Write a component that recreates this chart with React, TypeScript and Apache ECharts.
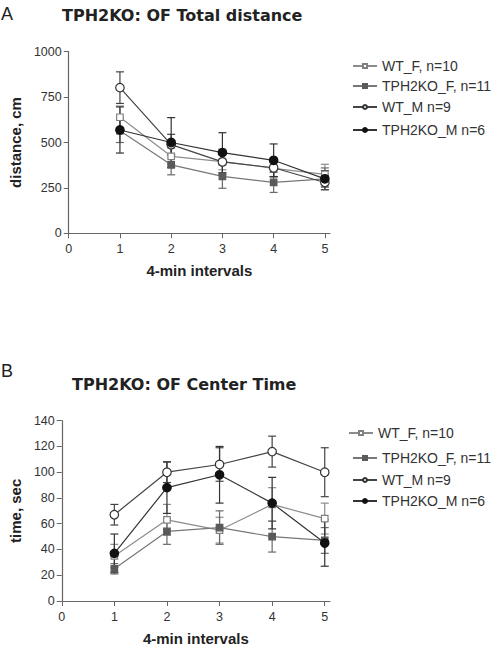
import React, { useEffect, useRef } from "react";
import * as echarts from "echarts";

const intervals = [1, 2, 3, 4, 5];
const xTicks = [0, 1, 2, 3, 4, 5];
const seriesNames = ["WT_F, n=10", "TPH2KO_F, n=11", "WT_M n=9", "TPH2KO_M n=6"];

// Panel A: total distance (cm), mean and SEM
const distWTF = [639, 424, 395, 358, 325];
const distWTFErr = [62, 45, 45, 45, 55];
const distKOF = [565, 377, 313, 280, 300];
const distKOFErr = [65, 55, 65, 55, 60];
const distWTM = [802, 488, 393, 361, 280];
const distWTMErr = [87, 57, 70, 50, 40];
const distKOM = [569, 500, 444, 402, 300];
const distKOMErr = [127, 137, 110, 90, 45];
const distTicks = [0, 250, 500, 750, 1000];

// Panel B: center time (sec), mean and SEM
const timeWTF = [35, 63, 55, 75, 64];
const timeWTFErr = [9, 12, 10, 13, 12];
const timeKOF = [25, 54, 57, 50, 47];
const timeKOFErr = [4, 10, 13, 12, 10];
const timeWTM = [67, 100, 106, 116, 100];
const timeWTMErr = [8, 8, 13, 12, 19];
const timeKOM = [37, 88, 98, 76, 45];
const timeKOMErr = [15, 20, 22, 20, 18];
const timeTicks = [0, 20, 40, 60, 80, 100, 120, 140];

const styles = [
  { line: "#8c8c8c", symbol: "rect", size: 6.5, fill: "#ffffff", border: "#808080", err: "#8c8c8c" },
  { line: "#777777", symbol: "rect", size: 6.5, fill: "#5a5a5a", border: "#5a5a5a", err: "#6a6a6a" },
  { line: "#444444", symbol: "circle", size: 8.5, fill: "#ffffff", border: "#333333", err: "#444444" },
  { line: "#333333", symbol: "circle", size: 8.5, fill: "#111111", border: "#111111", err: "#333333" },
];

const FONT = "'Liberation Sans', Arial, sans-serif";

export default function App() {
  const ref = useRef<HTMLDivElement>(null);
  useEffect(() => {
    document.body.style.margin = "0";
    const chart = echarts.init(ref.current!, undefined, { renderer: "svg" });

    const topMeans = [distWTF, distKOF, distWTM, distKOM];
    const topErrs = [distWTFErr, distKOFErr, distWTMErr, distKOMErr];
    const botMeans = [timeWTF, timeKOF, timeWTM, timeKOM];
    const botErrs = [timeWTFErr, timeKOFErr, timeWTMErr, timeKOMErr];

    const series: any[] = [];
    const mk = (means: number[][], errs: number[][], idx: number) => {
      means.forEach((m, i) => {
        const s = styles[i];
        series.push({
          type: "custom",
          name: "err" + idx + "_" + i,
          xAxisIndex: idx,
          yAxisIndex: idx,
          z: 2,
          clip: false,
          encode: { x: 0, y: 1 },
          data: intervals.map((x, j) => [x, m[j], errs[i][j]]),
          renderItem: (params: any, api: any) => {
            const x = api.value(0);
            const y = api.value(1);
            const e = api.value(2);
            const t = api.coord([x, y + e]);
            const b = api.coord([x, y - e]);
            const w = 4;
            const st = { stroke: s.err, lineWidth: 1.2 };
            return {
              type: "group",
              children: [
                { type: "line", shape: { x1: t[0], y1: t[1], x2: b[0], y2: b[1] }, style: st },
                { type: "line", shape: { x1: t[0] - w, y1: t[1], x2: t[0] + w, y2: t[1] }, style: st },
                { type: "line", shape: { x1: b[0] - w, y1: b[1], x2: b[0] + w, y2: b[1] }, style: st },
              ],
            };
          },
        });
        series.push({
          type: "line",
          name: seriesNames[i],
          xAxisIndex: idx,
          yAxisIndex: idx,
          z: 3,
          data: intervals.map((x, j) => [x, m[j]]),
          symbol: s.symbol,
          symbolSize: s.size,
          showAllSymbol: true,
          lineStyle: { color: s.line, width: 1.2 },
          itemStyle: { color: s.fill, borderColor: s.border, borderWidth: 1.2 },
          emphasis: { disabled: true },
        });
      });
    };
    mk(topMeans, topErrs, 0);
    mk(botMeans, botErrs, 1);

    const legendTops = [
      [59, 79, 100, 123],
      [426, 451, 473, 494],
    ];
    const legendLefts = [
      [352, 352, 352, 352],
      [348, 352, 352, 352],
    ];
    const legends: any[] = [];
    for (let p = 0; p < 2; p++) {
      for (let i = 0; i < 4; i++) {
        legends.push({
          data: [seriesNames[i]],
          left: legendLefts[p][i],
          top: legendTops[p][i],
          padding: 0,
          orient: "vertical",
          itemWidth: 24,
          itemHeight: 5,
          itemGap: 0,
          selectedMode: false,
          textStyle: { fontFamily: FONT, fontSize: 14, color: "#333333" },
        });
      }
    }

    const xAxisBase = (name: string, idx: number) => ({
      type: "value",
      gridIndex: idx,
      min: 0,
      max: 5.1,
      interval: 1,
      name,
      nameLocation: "middle",
      nameGap: 30,
      nameTextStyle: { fontFamily: FONT, fontSize: 15, fontWeight: "bold", color: "#222222" },
      axisLine: { show: true, lineStyle: { color: "#666666", width: 1.2 } },
      axisTick: { show: true, length: 5, customValues: xTicks, lineStyle: { color: "#666666" } },
      axisLabel: { customValues: xTicks, margin: 9, fontFamily: FONT, fontSize: 12.5, color: "#333333" },
      splitLine: { show: false },
    });
    const yAxisBase = (name: string, idx: number, max: number, interval: number) => ({
      type: "value",
      gridIndex: idx,
      min: 0,
      max,
      interval,
      name,
      nameLocation: "middle",
      nameGap: 37,
      nameTextStyle: { fontFamily: FONT, fontSize: 15, fontWeight: "bold", color: "#222222" },
      axisLine: { show: true, lineStyle: { color: "#666666", width: 1.2 } },
      axisTick: { show: true, length: 5, lineStyle: { color: "#666666" } },
      axisLabel: {
        margin: 7,
        fontFamily: FONT,
        fontSize: 12.5,
        color: "#333333",
        formatter: (v: number) => String(v),
      },
      splitLine: { show: false },
    });

    chart.setOption({
      animation: false,
      backgroundColor: "#ffffff",
      grid: [
        { left: 57, top: 51.7, width: 273, height: 181.6 },
        { left: 57, top: 420.7, width: 273, height: 182.6 },
      ],
      xAxis: [xAxisBase("4-min intervals", 0), xAxisBase("4-min intervals", 1)],
      yAxis: [
        yAxisBase("distance, cm", 0, distTicks[distTicks.length - 1], distTicks[1] - distTicks[0]),
        yAxisBase("time, sec", 1, timeTicks[timeTicks.length - 1], timeTicks[1] - timeTicks[0]),
      ],
      legend: legends,
      graphic: [
        { type: "text", left: 1, top: 5, style: { text: "A", font: "normal 18px 'Liberation Sans', Arial, sans-serif", fill: "#222222" } },
        { type: "text", left: 62, top: 7, style: { text: "TPH2KO: OF Total distance", font: "bold 16px 'DejaVu Sans', sans-serif", fill: "#222222" } },
        { type: "text", left: 1, top: 362, style: { text: "B", font: "normal 18px 'Liberation Sans', Arial, sans-serif", fill: "#222222" } },
        { type: "text", left: 72, top: 376, style: { text: "TPH2KO: OF Center Time", font: "bold 16px 'DejaVu Sans', sans-serif", fill: "#222222" } },
      ],
      series,
    });
    return () => chart.dispose();
  }, []);
  return <div ref={ref} style={{ width: 498, height: 647 }} />;
}
